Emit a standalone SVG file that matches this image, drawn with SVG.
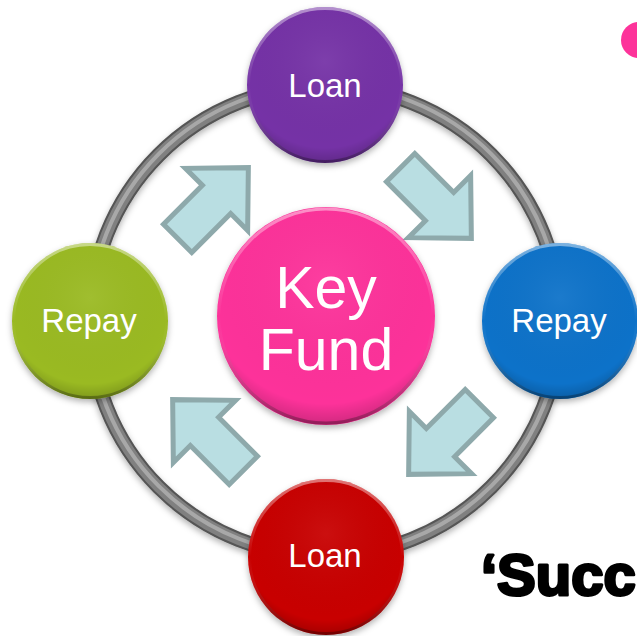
<svg xmlns="http://www.w3.org/2000/svg" width="637" height="636" viewBox="0 0 637 636">
<defs>
<radialGradient id="shade" cx="50%" cy="35%" r="65%">
<stop offset="0" stop-color="#fff" stop-opacity="0.06"/>
<stop offset="0.85" stop-color="#000" stop-opacity="0"/>
<stop offset="1" stop-color="#000" stop-opacity="0.18"/>
</radialGradient>
<linearGradient id="rim" x1="0" y1="0" x2="0" y2="1">
<stop offset="0" stop-color="#fff" stop-opacity="0.45"/>
<stop offset="0.5" stop-color="#fff" stop-opacity="0"/>
<stop offset="1" stop-color="#000" stop-opacity="0.3"/>
</linearGradient>
<filter id="sh" x="-20%" y="-20%" width="140%" height="140%">
<feDropShadow dx="0" dy="3" stdDeviation="3" flood-color="#000" flood-opacity="0.3"/>
</filter>
<path id="arr" d="M-50,-20 L5,-20 L5,-44 L50,0 L5,44 L5,20 L-50,20 Z"/>
</defs>
<style>
.lbl{font-family:"Liberation Sans",Arial,sans-serif;fill:#fff;text-anchor:middle;font-size:33px}
.big{font-size:59px}
.arrow{fill:#b9dee2;stroke:#8ea9ab;stroke-width:5;stroke-linejoin:miter}
.rim{fill:none;stroke:url(#rim);stroke-width:3}
</style>
<rect width="637" height="636" fill="#fff"/>
<circle cx="639" cy="40" r="18" fill="#fd339a"/>
<g id="connectors">
<circle cx="325" cy="321" r="235" fill="none" stroke="#555" stroke-width="15" filter="url(#sh)"/>
<circle cx="325" cy="321" r="235" fill="none" stroke="#808080" stroke-width="11"/>
<circle cx="325" cy="320" r="235" fill="none" stroke="#a8a8a8" stroke-width="4"/>
<use href="#arr" class="arrow" transform="translate(213,203) rotate(-45)"/>
<use href="#arr" class="arrow" transform="translate(436,203) rotate(45)"/>
<use href="#arr" class="arrow" transform="translate(444,439) rotate(135)"/>
<use href="#arr" class="arrow" transform="translate(208,435) rotate(-135)"/>
</g>
<g id="keyfund">
<circle cx="326" cy="316" r="109" fill="#fd339a" filter="url(#sh)"/>
<circle cx="326" cy="316" r="109" fill="url(#shade)"/>
<circle cx="326" cy="316" r="107" class="rim"/>
<text class="lbl big" x="326" y="308">Key</text>
<text class="lbl big" x="326" y="370">Fund</text>
</g>
<g id="loan-top">
<circle cx="325" cy="85" r="78" fill="#7433a6" filter="url(#sh)"/>
<circle cx="325" cy="85" r="78" fill="url(#shade)"/>
<circle cx="325" cy="85" r="76.5" class="rim"/>
<text class="lbl" x="325" y="97">Loan</text>
</g>
<g id="repay-right">
<circle cx="560" cy="321" r="78" fill="#0b72c9" filter="url(#sh)"/>
<circle cx="560" cy="321" r="78" fill="url(#shade)"/>
<circle cx="560" cy="321" r="76.5" class="rim"/>
<text class="lbl" x="559" y="332">Repay</text>
</g>
<g id="loan-bottom">
<circle cx="326" cy="557" r="78" fill="#c80505" filter="url(#sh)"/>
<circle cx="326" cy="557" r="78" fill="url(#shade)"/>
<circle cx="326" cy="557" r="76.5" class="rim"/>
<text class="lbl" x="325" y="567">Loan</text>
</g>
<g id="repay-left">
<circle cx="90" cy="321" r="78" fill="#9aba23" filter="url(#sh)"/>
<circle cx="90" cy="321" r="78" fill="url(#shade)"/>
<circle cx="90" cy="321" r="76.5" class="rim"/>
<text class="lbl" x="89" y="332">Repay</text>
</g>
<text x="481" y="595" font-family="'Liberation Sans',Arial,sans-serif" font-weight="bold" font-size="58" fill="#000" stroke="#000" stroke-width="3" stroke-linejoin="round">‘Succ</text>
</svg>
